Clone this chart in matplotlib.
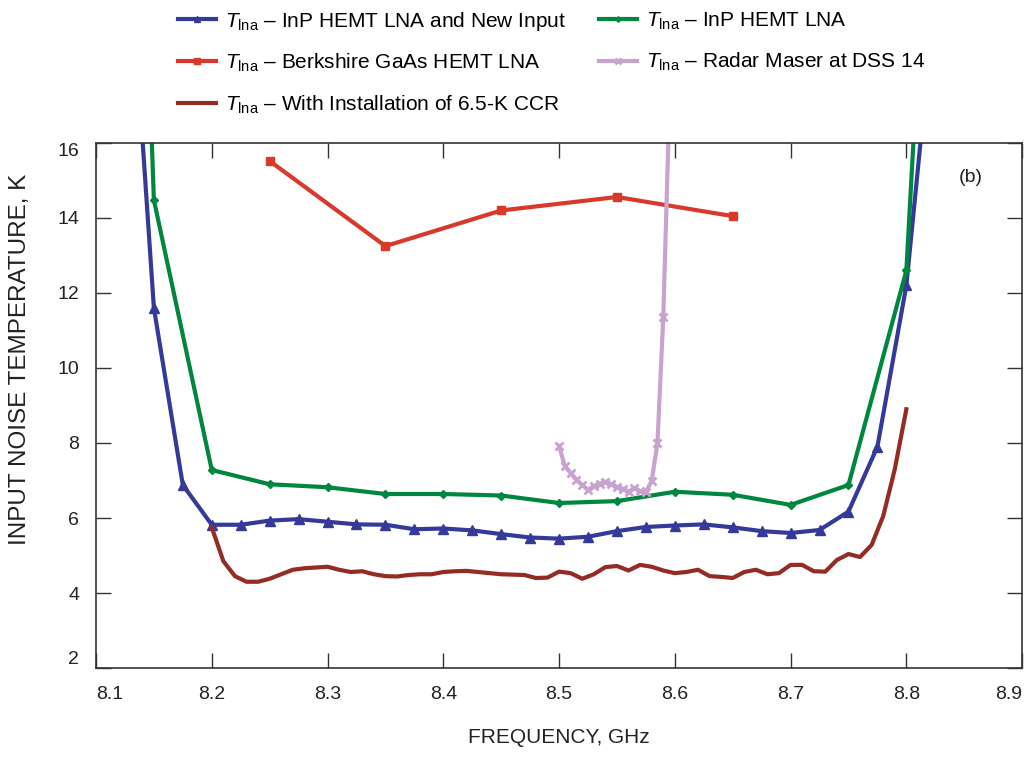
import matplotlib
matplotlib.use("Agg")
from matplotlib import pyplot as plt
import numpy as np

plt.rcParams['font.family'] = ['Liberation Sans', 'DejaVu Sans']
plt.rcParams['mathtext.fontset'] = 'custom'
plt.rcParams['mathtext.rm'] = 'Liberation Sans'
plt.rcParams['mathtext.it'] = 'Liberation Sans:italic'

# InP HEMT LNA and new input (blue)
blue_f = [8.125, 8.15, 8.175, 8.2, 8.225, 8.25, 8.275, 8.3, 8.325, 8.35, 8.375, 8.4, 8.425,
          8.45, 8.475, 8.5, 8.525, 8.55, 8.575, 8.6, 8.625, 8.65, 8.675, 8.7, 8.725, 8.75,
          8.775, 8.8, 8.825]
blue_t = [23.0, 11.6, 6.88, 5.82, 5.82, 5.93, 5.97, 5.9, 5.83, 5.82, 5.7, 5.72, 5.67,
          5.57, 5.48, 5.45, 5.5, 5.65, 5.76, 5.8, 5.83, 5.75, 5.65, 5.6, 5.68, 6.17,
          7.9, 12.2, 20.0]

# InP HEMT LNA (green)
green_f = [8.125, 8.15, 8.2, 8.25, 8.3, 8.35, 8.4, 8.45, 8.5, 8.55, 8.6, 8.65, 8.7, 8.75, 8.8, 8.825]
green_t = [36.0, 14.48, 7.28, 6.9, 6.82, 6.64, 6.64, 6.6, 6.4, 6.45, 6.7, 6.62, 6.35, 6.88, 12.6, 26.6]

# Berkshire GaAs HEMT LNA (red)
red_f = [8.25, 8.35, 8.45, 8.55, 8.65]
red_t = [15.52, 13.25, 14.2, 14.56, 14.05]

# Radar maser at DSS 14 (pink)
pink_f = [8.500, 8.505, 8.510, 8.515, 8.520, 8.525, 8.530, 8.535, 8.540, 8.545, 8.550,
          8.555, 8.560, 8.565, 8.570, 8.575, 8.580, 8.585, 8.590, 8.600]
pink_t = [7.92, 7.38, 7.2, 7.02, 6.88, 6.75, 6.85, 6.92, 6.97, 6.9, 6.83,
          6.78, 6.7, 6.8, 6.72, 6.7, 6.98, 8.0, 11.35, 22.0]

# With installation of 6.5-K CCR (brown)
brown_f = np.round(np.arange(8.20, 8.805, 0.01), 2)
brown_t = [5.75, 4.85, 4.45, 4.3, 4.3, 4.38, 4.5, 4.62, 4.66, 4.68,
           4.7, 4.62, 4.56, 4.58, 4.5, 4.45, 4.44, 4.48, 4.5, 4.5,
           4.56, 4.58, 4.59, 4.56, 4.53, 4.5, 4.49, 4.48, 4.4, 4.41,
           4.57, 4.53, 4.38, 4.5, 4.69, 4.72, 4.6, 4.75, 4.7, 4.6,
           4.53, 4.56, 4.62, 4.45, 4.43, 4.4, 4.56, 4.62, 4.5, 4.53,
           4.75, 4.75, 4.58, 4.57, 4.88, 5.04, 4.96, 5.28, 6.05, 7.3,
           8.9]

x_ticks = [8.1, 8.2, 8.3, 8.4, 8.5, 8.6, 8.7, 8.8, 8.9]
y_ticks = [2, 4, 6, 8, 10, 12, 14, 16]

BLUE = '#35399a'
GREEN = '#00873f'
RED = '#d8392b'
PINK = '#c9a3cf'
BROWN = '#942b25'
lab = r'$T_{\mathrm{lna}}$'

fig = plt.figure(figsize=(10.29, 7.61), dpi=100)
ax = fig.add_axes([0.0933, 0.1222, 0.9, 0.6899])

l_blue, = ax.plot(blue_f, blue_t, color=BLUE, lw=3, marker='^', ms=7,
                  label=lab + ' – InP HEMT LNA and New Input')
l_green, = ax.plot(green_f, green_t, color=GREEN, lw=3, marker='D', ms=4,
                   label=lab + ' – InP HEMT LNA')
l_red, = ax.plot(red_f, red_t, color=RED, lw=3, marker='s', ms=6,
                 label=lab + ' – Berkshire GaAs HEMT LNA')
l_pink, = ax.plot(pink_f, pink_t, color=PINK, lw=3, marker='x', ms=6, mew=2,
                  label=lab + ' – Radar Maser at DSS 14')
l_brown, = ax.plot(brown_f, brown_t, color=BROWN, lw=3,
                   label=lab + ' – With Installation of 6.5-K CCR')

ax.set_xlim(8.1, 8.9)
ax.set_ylim(2, 16)
ax.set_xticks(x_ticks)
ax.set_yticks(y_ticks)
ax.set_xticklabels([f'{v:.1f}' for v in x_ticks])
ax.set_yticklabels([str(v) for v in y_ticks])
ax.tick_params(direction='in', length=10.8, width=1, color='#333333',
               top=True, right=True, labelsize=14, labelcolor='#222222')
ax.tick_params(axis='x', pad=13)
ax.tick_params(axis='y', pad=12)
xl = ax.get_xticklabels()
xl[0].set_ha('left')
xl[-1].set_ha('right')
yl = ax.get_yticklabels()
yl[0].set_va('bottom')
yl[-1].set_va('top')
for s in ax.spines.values():
    s.set_linewidth(1.2)
    s.set_color('#333333')

ax.set_xlabel('FREQUENCY, GHz', fontsize=15, labelpad=18, color='#222222')
ax.set_ylabel('INPUT NOISE TEMPERATURE, K', fontsize=17.5, color='#222222')
ax.yaxis.set_label_coords(-0.07, 0.587)
ax.text(0.945, 0.935, '(b)', transform=ax.transAxes, fontsize=14, ha='center', va='center',
        color='#222222')

fig.legend(handles=[l_blue, l_red, l_brown, l_green, l_pink], ncol=2, frameon=False,
           loc='upper left', bbox_to_anchor=(0.155, 1.012), fontsize=15,
           handlelength=1.8, handletextpad=0.45, labelspacing=0.92, columnspacing=1.6,
           markerscale=0.7)

plt.savefig('out.png', dpi=100)
